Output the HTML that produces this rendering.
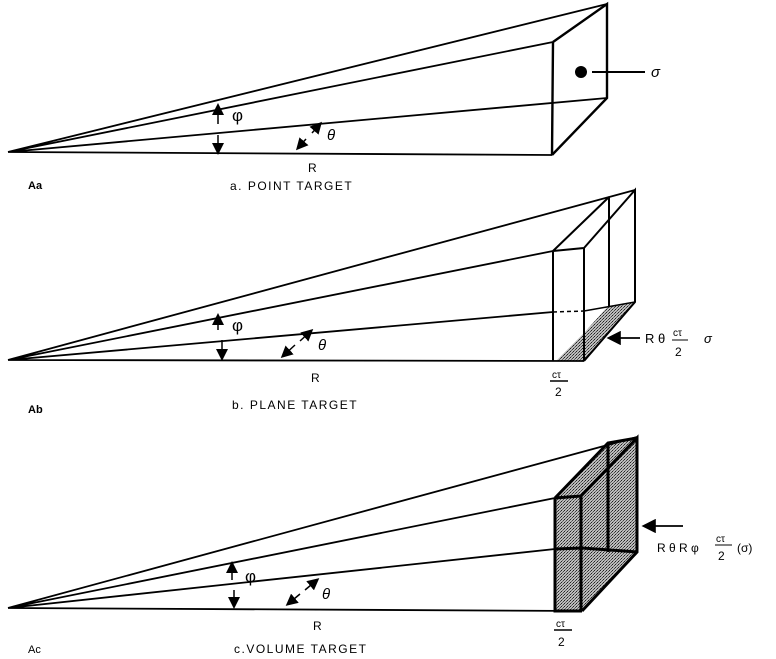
<!DOCTYPE html>
<html><head><meta charset="utf-8"><style>
html,body{margin:0;padding:0;background:#fff}
svg{display:block}
text{font-family:"Liberation Sans",sans-serif;fill:#000}
</style></head><body>
<svg width="776" height="659" viewBox="0 0 776 659" stroke="#000" fill="none" stroke-width="2">
<defs>
<pattern id="dots" width="3" height="3" patternUnits="userSpaceOnUse"><rect width="3" height="3" fill="#bbb" stroke="none"/><rect width="1" height="1" fill="#222" stroke="none"/><rect x="2" y="1" width="1" height="1" fill="#444" stroke="none"/><rect x="1" y="2" width="1" height="1" fill="#666" stroke="none"/></pattern>
<marker id="ah" markerWidth="8" markerHeight="8" refX="6" refY="4" orient="auto"><path d="M0,0 L8,4 L0,8 z" fill="#000" stroke="none"/></marker>
</defs>

<!-- Panel a -->
<g>
<path d="M8,152 L607,4 M8,152 L553,42 M8,152 L607,98 M8,152 L552,155" stroke-width="1.8"/>
<path d="M553,42 L552,155 M553,42 L607,4 L607,98 L552,155" stroke-width="2.4"/>
<circle cx="581" cy="72" r="6" fill="#000" stroke="none"/>
<line x1="592" y1="72" x2="645" y2="72"/>
<text x="651" y="77" font-size="15" font-style="italic" stroke="none">σ</text>
<line x1="218" y1="124" x2="218" y2="106" marker-end="url(#ah)" stroke-width="1.5"/>
<line x1="218" y1="135" x2="218" y2="152" marker-end="url(#ah)" stroke-width="1.5"/>
<text x="232" y="121" font-size="17" stroke="none">φ</text>
<line x1="306" y1="139" x2="298" y2="148" marker-end="url(#ah)" stroke-width="1.5"/>
<line x1="312" y1="133" x2="320" y2="124" marker-end="url(#ah)" stroke-width="1.5"/>
<text x="327" y="140" font-size="15" font-style="italic" stroke="none">θ</text>
<text x="308" y="172" font-size="12" stroke="none">R</text>
<text x="28" y="189" font-size="11" font-weight="bold" stroke="none">Aa</text>
<text x="230" y="190" font-size="12" letter-spacing="1.5" stroke="none">a. POINT TARGET</text>
</g>

<!-- Panel b -->
<g>
<path d="M556,361 L584,361 L635,303 L608,306 L585,332 Z" fill="url(#dots)" stroke="none"/>
<path d="M8,360 L635,190 M8,360 L553,251 M8,360 L553,312 M8,360 L584,361" stroke-width="1.8"/>
<path d="M553,312 L584,311" stroke-dasharray="4 3" stroke-width="1.5"/>
<path d="M584,311 L635,302" stroke-width="1.5"/>
<path d="M553,251 L553,361 M553,251 L584,248 L584,361 M553,251 L609,197 M584,248 L635,190 L635,302 L584,361 M609,197 L609,306" stroke-width="2"/>
<line x1="640" y1="338" x2="610" y2="338" marker-end="url(#ah)" stroke-width="1.8"/>
<text x="645" y="343" font-size="13" stroke="none">R θ</text>
<text x="673" y="336" font-size="10" stroke="none">cτ</text>
<line x1="672" y1="340" x2="688" y2="340" stroke-width="1"/>
<text x="675" y="356" font-size="12" stroke="none">2</text>
<text x="704" y="343" font-size="13" font-style="italic" stroke="none">σ</text>
<line x1="218" y1="330" x2="218" y2="316" marker-end="url(#ah)" stroke-width="1.5"/>
<line x1="222" y1="340" x2="222" y2="358" marker-end="url(#ah)" stroke-width="1.5"/>
<text x="232" y="331" font-size="17" stroke="none">φ</text>
<line x1="295" y1="345" x2="283" y2="356" marker-end="url(#ah)" stroke-width="1.5"/>
<line x1="300" y1="341" x2="311" y2="331" marker-end="url(#ah)" stroke-width="1.5"/>
<text x="318" y="350" font-size="15" font-style="italic" stroke="none">θ</text>
<text x="311" y="382" font-size="12" stroke="none">R</text>
<text x="552" y="378" font-size="10" stroke="none">cτ</text>
<line x1="550" y1="381" x2="568" y2="381" stroke-width="1.5"/>
<text x="555" y="396" font-size="12" stroke="none">2</text>
<text x="28" y="413" font-size="11" font-weight="bold" stroke="none">Ab</text>
<text x="232" y="409" font-size="12" letter-spacing="1.5" stroke="none">b. PLANE TARGET</text>
</g>

<!-- Panel c -->
<g>
<path d="M555,498 L608,443 L637,438 L637,552 L582,611 L555,611 Z" fill="url(#dots)" stroke="none"/>
<path d="M8,608 L637,437 M8,608 L555,498 M8,608 L555,549 M8,608 L582,611" stroke-width="1.8"/>
<path d="M555,498 L555,611 L582,611 M555,498 L581,496 L581,611 M555,498 L608,443 L637,438 M581,496 L637,438 L637,552 L582,611 M608,443 L608,552 M555,549 L582,548 L637,552" stroke-width="3"/>
<line x1="683" y1="526" x2="645" y2="526" marker-end="url(#ah)" stroke-width="1.8"/>
<text x="657" y="552" font-size="12" stroke="none">R θ R φ</text>
<text x="716" y="542" font-size="10" stroke="none">cτ</text>
<line x1="715" y1="545" x2="732" y2="545" stroke-width="1"/>
<text x="718" y="560" font-size="12" stroke="none">2</text>
<text x="737" y="552" font-size="12" stroke="none">(σ)</text>
<line x1="232" y1="580" x2="232" y2="564" marker-end="url(#ah)" stroke-width="1.5"/>
<line x1="234" y1="590" x2="234" y2="606" marker-end="url(#ah)" stroke-width="1.5"/>
<text x="245" y="582" font-size="17" stroke="none">φ</text>
<line x1="300" y1="594" x2="288" y2="604" marker-end="url(#ah)" stroke-width="1.5"/>
<line x1="305" y1="590" x2="317" y2="580" marker-end="url(#ah)" stroke-width="1.5"/>
<text x="322" y="599" font-size="15" font-style="italic" stroke="none">θ</text>
<text x="313" y="630" font-size="12" stroke="none">R</text>
<text x="556" y="627" font-size="10" stroke="none">cτ</text>
<line x1="554" y1="630" x2="572" y2="630" stroke-width="1.5"/>
<text x="558" y="646" font-size="12" stroke="none">2</text>
<text x="28" y="653" font-size="11" stroke="none">Ac</text>
<text x="234" y="653" font-size="12" letter-spacing="1.5" stroke="none">c.VOLUME TARGET</text>
</g>
</svg>
</body></html>
